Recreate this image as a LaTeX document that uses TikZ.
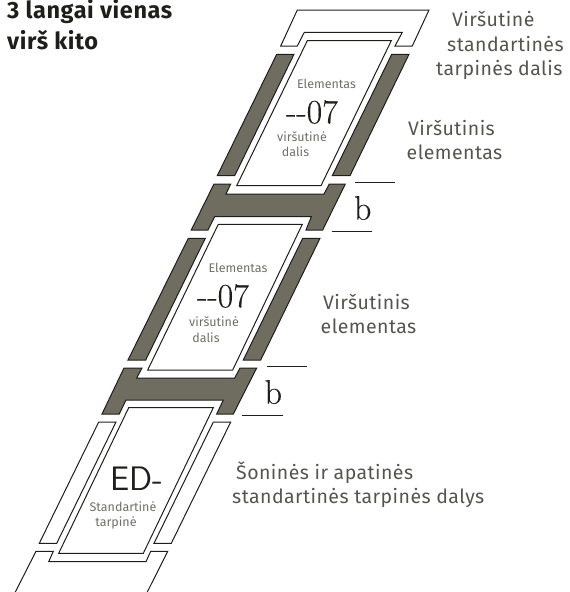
\documentclass[tikz,border=0pt]{standalone}
\usepackage{fontspec}
\newfontfamily\capfont[LetterSpace=2.3]{Fira Sans}
\newfontfamily\smallfont{Fira Sans}
\newfontfamily\titlefont[LetterSpace=2.6]{Fira Sans}
\newfontfamily\codefont[FakeBold=0.35]{Latin Modern Roman}
\definecolor{flash}{HTML}{6F6C60}
\definecolor{ink}{HTML}{1E1E1A}
\definecolor{lab}{HTML}{55554F}
\definecolor{small}{HTML}{70706A}
\tikzset{
  whitepart/.style={draw=ink,line width=1pt,fill=white,line join=miter},
  darkpart/.style={draw=ink,line width=1pt,fill=flash,line join=miter},
  dimline/.style={draw=ink,line width=0.9pt},
  caption/.style={text=lab,font=\capfont\fontsize{19.5}{21}\selectfont,inner sep=0pt,anchor=base west},
  smalltxt/.style={text=small,font=\smallfont\fontsize{12.5}{14}\selectfont,inner sep=0pt},
  code/.style={text=ink,font=\codefont\fontsize{34}{36}\selectfont,inner sep=0pt},
  codesans/.style={text=ink,font=\sffamily\fontsize{34}{36}\selectfont,inner sep=0pt},
  dimtxt/.style={text=ink,font=\codefont\fontsize{34}{36}\selectfont,inner sep=0pt},
  titletxt/.style={text=ink,font=\titlefont\bfseries\fontsize{23.5}{25}\selectfont,inner sep=0pt,anchor=base west}
}
\begin{document}
\begin{tikzpicture}[x=1pt,y=-1pt]
\useasboundingbox (0,0) rectangle (570,592);
% top flashing
\draw[whitepart] (297.3,10)--(429,10)--(412.3,46)--(395,46)--(402.3,32.3)--(304.3,32.3)--(297.3,46)--(280.7,46)--cycle;
% window 1
\draw[whitepart] (307.3,40.7)--(391.3,40.7)--(321,185.7)--(236.7,185.7)--cycle;
\draw[darkpart] (276.7,54.3)--(294,54.3)--(234.7,175.7)--(217.3,175.7)--cycle;
\draw[darkpart] (391.7,54.3)--(409,54.3)--(350,175.7)--(332.3,175.7)--cycle;
% connector 1
\draw[darkpart] (214,184)--(230.7,184)--(226,194)--(324,194)--(329.3,184)--(345.3,184)--(322.7,230)--(306,230)--(311.3,216.7)--(214.7,216.7)--(208,230)--(191.3,230)--cycle;
% window 2
\draw[whitepart] (218.3,224.3)--(302.3,224.3)--(232.7,370)--(147.7,370)--cycle;
\draw[darkpart] (188.3,238.3)--(205.3,238.3)--(145.7,360)--(128,360)--cycle;
\draw[darkpart] (302.7,238.3)--(320,238.3)--(260.7,360)--(243.3,360)--cycle;
% connector 2
\draw[darkpart] (124,368)--(142,368)--(136.7,378)--(234.7,378)--(240,368)--(256.7,368)--(233.3,414)--(216.7,414)--(223.3,400)--(126,400)--(119.3,414)--(102,414)--cycle;
% window 3
\draw[whitepart] (128.7,407.7)--(213.3,407.7)--(143.3,553.3)--(58.7,553.3)--cycle;
\draw[whitepart] (98.7,422)--(116,422)--(56.7,543.3)--(39.3,543.3)--cycle;
\draw[whitepart] (213.3,422)--(230.7,422)--(171.3,543.3)--(154,543.3)--cycle;
% bottom flashing
\draw[whitepart] (15.3,592)--(36,551.3)--(53.3,551.3)--(48.7,561.7)--(146,561.7)--(150.7,551.3)--(167.7,551.3)--(147.3,592);
% dimension rules
\coordinate (d1a) at (355.3,182.3); \coordinate (d1b) at (395.3,182.3);
\coordinate (d2a) at (331.7,231.7); \coordinate (d2b) at (371.7,231.7);
\coordinate (d3a) at (266.7,366.3); \coordinate (d3b) at (306.7,366.3);
\coordinate (d4a) at (242.3,415); \coordinate (d4b) at (282.7,415);
\draw[dimline] (d1a)--(d1b);
\draw[dimline] (d2a)--(d2b);
\draw[dimline] (d3a)--(d3b);
\draw[dimline] (d4a)--(d4b);
\node[dimtxt] (b1) at (362.7,208) {b};
\node[dimtxt] (b2) at (273.3,392) {b};
% title
\node[titletxt] (t1) at (7,18) {3 langai vienas};
\node[titletxt] (t2) at (7,49) {virš kito};
% captions
\node[caption] (c1) at (452,26.7) {Viršutinė};
\node[caption] (c2) at (447,51) {standartinės};
\node[caption] (c3) at (436,75) {tarpinės dalis};
\node[caption] (c4) at (408,135) {Viršutinis};
\node[caption] (c5) at (406.5,159) {elementas};
\node[caption] (c6) at (323,309) {Viršutinis};
\node[caption] (c7) at (320.5,333) {elementas};
\node[caption] (c8) at (236,479) {Šoninės ir apatinės};
\node[caption] (c9) at (232,503) {standartinės tarpinės dalys};
% window labels
\node[smalltxt] (e1) at (326.5,84) {Elementas};
\node[code] (n1) at (312,112) {-{}-07};
\node[smalltxt] (v1) at (302,137) {viršutinė};
\node[smalltxt] (d1) at (295.5,152) {dalis};
\node[smalltxt] (e2) at (238,268) {Elementas};
\node[code] (n2) at (223,296) {-{}-07};
\node[smalltxt] (v2) at (214,322) {viršutinė};
\node[smalltxt] (d2) at (206,338) {dalis};
\node[codesans] (n3) at (137,479) {ED-};
\node[smalltxt] (s1) at (123,507) {Standartinė};
\node[smalltxt] (s2) at (116,523) {tarpinė};
\end{tikzpicture}
\end{document}
